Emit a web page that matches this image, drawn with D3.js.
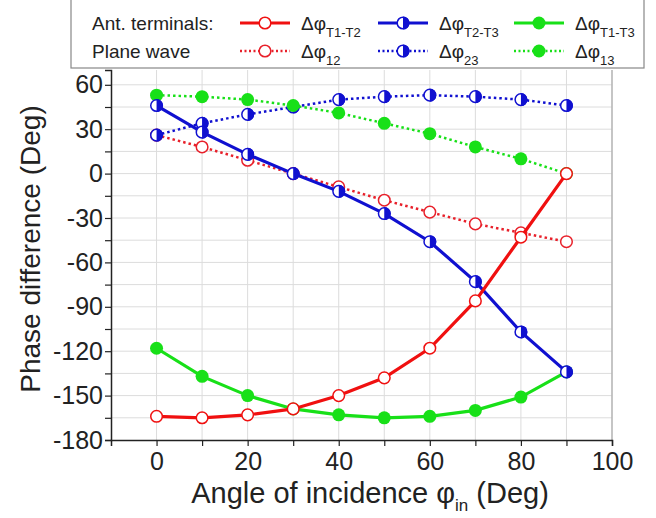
<!DOCTYPE html>
<html>
<head>
<meta charset="utf-8">
<script src="https://cdn.jsdelivr.net/npm/d3@7"></script>
<style>
  body { margin: 0; background: #fff; }
  svg { font-family: "Liberation Sans", Arial, sans-serif; }
</style>
</head>
<body>
<svg id="viz" width="656" height="518"></svg>
<script>
/* Data */

const angles = [0, 10, 20, 30, 40, 50, 60, 70, 80, 90];

// antenna terminals
const dT1T2 = [-164, -165, -163, -159, -150, -138, -118, -86, -43, 0];
const dT2T3 = [46, 28, 13, 0, -12, -27, -46, -73, -107, -134];
const dT1T3 = [-118, -137, -150, -159, -163, -165, -164, -160, -151, -134];

// plane wave
const d12 = [26, 18, 9, 0, -9, -18, -26, -34, -40, -46];
const d23 = [26, 34, 40, 45, 50, 52, 53, 52, 50, 46];
const d13 = [53, 52, 50, 46, 41, 34, 27, 18, 10, 0];

const xTicks = [0, 20, 40, 60, 80, 100];
const yTicks = [-180, -150, -120, -90, -60, -30, 0, 30, 60];

const series = [
  { values: d12, color: '#e8202a', marker: 'open', dotted: true },
  { values: d23, color: '#1010d0', marker: 'half', dotted: true },
  { values: d13, color: '#18e018', marker: 'full', dotted: true },
  { values: dT1T3, color: '#18e018', marker: 'full', dotted: false },
  { values: dT2T3, color: '#1010d0', marker: 'half', dotted: false },
  { values: dT1T2, color: '#f01010', marker: 'open', dotted: false },
];

/* Visualization */

const margin = { top: 70, right: 44, bottom: 78, left: 111 };
const width = 656 - margin.left - margin.right;
const height = 518 - margin.top - margin.bottom;

const svg = d3.select('#viz');

const xScale = d3.scaleLinear().domain([-10, 100]).range([0, width]);
const yScale = d3.scaleLinear().domain([-180, 70]).range([height, 0]);

const plot = svg.append('g').attr('transform', `translate(${margin.left},${margin.top})`);

// grid
const grid = plot.append('g').attr('stroke', '#dcdcdc').attr('stroke-width', 1);
grid.selectAll('line.v')
  .data(d3.range(0, 101, 10))
  .join('line')
  .attr('x1', (d) => xScale(d)).attr('x2', (d) => xScale(d))
  .attr('y1', 0).attr('y2', height);
grid.selectAll('line.h')
  .data(d3.range(-165, 70, 15))
  .join('line')
  .attr('x1', 0).attr('x2', width)
  .attr('y1', (d) => yScale(d)).attr('y2', (d) => yScale(d));

// right border
plot.append('line')
  .attr('x1', width).attr('x2', width).attr('y1', 0).attr('y2', height)
  .attr('stroke', '#aaa').attr('stroke-width', 1.2);

// axes
const xAxis = plot.append('g')
  .attr('transform', `translate(0,${height})`)
  .call(d3.axisBottom(xScale).tickValues(d3.range(0, 101, 10)).tickSize(6)
    .tickFormat((d) => (xTicks.includes(d) ? d : '')));
const yAxis = plot.append('g')
  .call(d3.axisLeft(yScale).tickValues(d3.range(-180, 61, 15)).tickSize(6)
    .tickFormat((d) => (yTicks.includes(d) ? d : '')));

[xAxis, yAxis].forEach((a) => {
  a.select('.domain').attr('stroke', '#222').attr('stroke-width', 1.5);
  a.selectAll('.tick line').attr('stroke', '#222').attr('stroke-width', 1.2);
  a.selectAll('.tick text')
    .attr('font-size', 25)
    .attr('font-family', '"Liberation Sans", Arial, sans-serif')
    .attr('fill', '#222');
});
xAxis.selectAll('.tick text').attr('dy', '0.85em').attr('y', 9);
yAxis.selectAll('.tick text').attr('x', -8);

// lines
const line = (values) => d3.line()
  .x((d, i) => xScale(angles[i]))
  .y((d) => yScale(d))(values);

const r = 6.5;

function drawMarker(g, type, color, cx, cy) {
  if (type === 'full') {
    g.append('circle').attr('cx', cx).attr('cy', cy).attr('r', r).attr('fill', color);
  } else {
    g.append('circle').attr('cx', cx).attr('cy', cy).attr('r', r - 0.7)
      .attr('fill', '#fff').attr('stroke', color).attr('stroke-width', 1.5);
    if (type === 'half') {
      g.append('path')
        .attr('d', `M${cx},${cy - r}A${r},${r} 0 0 1 ${cx},${cy + r}Z`)
        .attr('fill', color);
    }
  }
}

series.forEach((s) => {
  const g = plot.append('g');
  g.append('path')
    .attr('d', line(s.values))
    .attr('fill', 'none')
    .attr('stroke', s.color)
    .attr('stroke-width', s.dotted ? 2.5 : 3.2)
    .attr('stroke-dasharray', s.dotted ? '2.5,3' : null);
  s.values.forEach((v, i) => drawMarker(g, s.marker, s.color, xScale(angles[i]), yScale(v)));
});

// axis titles
const xt = svg.append('text')
  .attr('x', 370)
  .attr('y', 503)
  .attr('text-anchor', 'middle')
  .attr('font-size', 29)
  .attr('fill', '#222');
xt.append('tspan').text('Angle of incidence φ');
xt.append('tspan').attr('font-size', 17).attr('dy', 8).text('in');
xt.append('tspan').attr('dy', -8).text(' (Deg)');

svg.append('text')
  .attr('transform', `translate(40,249) rotate(-90)`)
  .attr('text-anchor', 'middle')
  .attr('font-size', 28)
  .attr('fill', '#222')
  .text('Phase difference (Deg)');

// legend
const legend = svg.append('g');
legend.append('rect')
  .attr('x', 71).attr('y', -2).attr('width', 573).attr('height', 70)
  .attr('fill', '#fff').attr('stroke', '#888').attr('stroke-width', 1.2);

const rows = [
  { label: 'Ant. terminals:', y: 23, items: [
    { s: series[5], sub: 'T1-T2', x: 240 },
    { s: series[4], sub: 'T2-T3', x: 378 },
    { s: series[3], sub: 'T1-T3', x: 514 },
  ] },
  { label: 'Plane wave', y: 51, items: [
    { s: series[0], sub: '12', x: 240 },
    { s: series[1], sub: '23', x: 378 },
    { s: series[2], sub: '13', x: 514 },
  ] },
];

rows.forEach((row) => {
  legend.append('text')
    .attr('x', 92).attr('y', row.y + 7)
    .attr('font-size', 19).attr('fill', '#222')
    .text(row.label);
  row.items.forEach((it) => {
    legend.append('line')
      .attr('x1', it.x).attr('x2', it.x + 50)
      .attr('y1', row.y).attr('y2', row.y)
      .attr('stroke', it.s.color)
      .attr('stroke-width', it.s.dotted ? 2.5 : 3.2)
      .attr('stroke-dasharray', it.s.dotted ? '2,2.5' : null);
    drawMarker(legend, it.s.marker, it.s.color, it.x + 25, row.y);
    const t = legend.append('text')
      .attr('x', it.x + 61).attr('y', row.y + 7)
      .attr('font-size', 19).attr('fill', '#222');
    t.append('tspan').text('Δφ');
    t.append('tspan').attr('font-size', 13).attr('dy', 7).text(it.sub);
  });
});
</script>
</body>
</html>
